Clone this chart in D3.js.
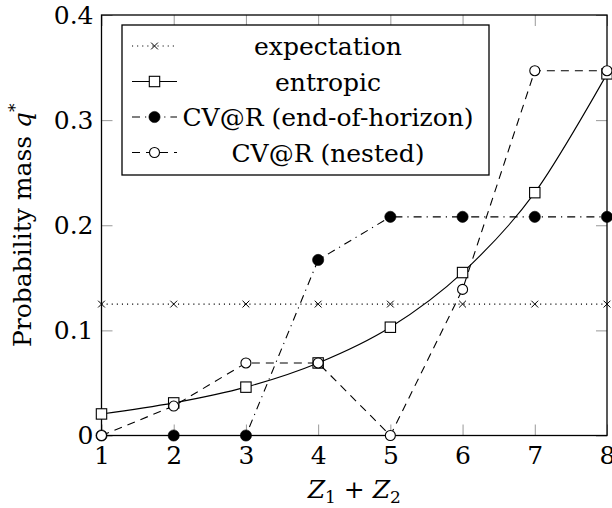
<!DOCTYPE html>
<html>
<head>
<meta charset="utf-8">
<script src="https://cdn.jsdelivr.net/npm/d3@7"></script>
<style>
  body { margin: 0; background: #fff; }
  svg text { font-family: "DejaVu Serif", "Liberation Serif", serif; fill: #000; }
</style>
</head>
<body>
<div id="chart"></div>
<script>
// values
const sums = [1, 2, 3, 4, 5, 6, 7, 8];
const expectation = [0.125, 0.125, 0.125, 0.125, 0.125, 0.125, 0.125, 0.125];
const entropic = [0.0205, 0.031, 0.046, 0.069, 0.103, 0.155, 0.231, 0.344];
const cvarEnd = [0, 0, 0, 0.167, 0.208, 0.208, 0.208, 0.208];
const cvarNested = [0, 0.028, 0.069, 0.069, 0, 0.139, 0.347, 0.347];

const xTicks = [1, 2, 3, 4, 5, 6, 7, 8];
const yTicks = [0, 0.1, 0.2, 0.3, 0.4];
const yTickLabels = ["0", "0.1", "0.2", "0.3", "0.4"];

const seriesNames = ["expectation", "entropic", "CV@R (end-of-horizon)", "CV@R (nested)"];

const serif = "'DejaVu Serif', 'Liberation Serif', serif";

const config = {
  width: 612,
  height: 508,
  left: 101.5, right: 607, top: 15, bottom: 435.5,
  fontSize: 25,
  tickLen: 11,
};

const svg = d3.select("#chart").append("svg")
  .attr("width", config.width)
  .attr("height", config.height)
  .attr("font-family", serif);

const x = d3.scaleLinear().domain([1, 8]).range([config.left, config.right]);
const y = d3.scaleLinear().domain([0, 0.4]).range([config.bottom, config.top]);

// ticks on all four sides, pointing inward
function styleAxis(g) {
  g.attr("font-family", serif);
  g.select(".domain").remove();
  g.selectAll(".tick line").attr("stroke", "#999").attr("stroke-width", 1);
  g.selectAll(".tick text")
    .style("font-family", serif)
    .style("font-size", config.fontSize + "px")
    .attr("fill", "#000");
}

svg.append("g")
  .attr("transform", `translate(0,${config.bottom})`)
  .call(d3.axisBottom(x).tickValues(xTicks).tickSize(-config.tickLen).tickPadding(11).tickFormat(d3.format("d")))
  .call(styleAxis);

svg.append("g")
  .attr("transform", `translate(0,${config.top})`)
  .call(d3.axisTop(x).tickValues(xTicks).tickSize(-config.tickLen).tickFormat(""))
  .call(styleAxis);

svg.append("g")
  .attr("transform", `translate(${config.left},0)`)
  .call(d3.axisLeft(y).tickValues(yTicks).tickSize(-config.tickLen).tickPadding(8)
    .tickFormat((d, i) => yTickLabels[i]))
  .call(styleAxis);

svg.append("g")
  .attr("transform", `translate(${config.right},0)`)
  .call(d3.axisRight(y).tickValues(yTicks).tickSize(-config.tickLen).tickFormat(""))
  .call(styleAxis);

// frame
svg.append("rect")
  .attr("x", config.left).attr("y", config.top)
  .attr("width", config.right - config.left)
  .attr("height", config.bottom - config.top)
  .attr("fill", "none")
  .attr("stroke", "#000")
  .attr("stroke-width", 1.3);

// marker drawing
function drawMarker(g, type, cx, cy) {
  if (type === "cross") {
    const s = 3.4;
    g.append("path")
      .attr("d", `M${cx - s},${cy - s}L${cx + s},${cy + s}M${cx - s},${cy + s}L${cx + s},${cy - s}`)
      .attr("stroke", "#000").attr("stroke-width", 1).attr("fill", "none");
  } else if (type === "square") {
    const s = 5.2;
    g.append("rect")
      .attr("x", cx - s).attr("y", cy - s).attr("width", 2 * s).attr("height", 2 * s)
      .attr("fill", "#fff").attr("stroke", "#000").attr("stroke-width", 1.1);
  } else if (type === "dot") {
    g.append("circle").attr("cx", cx).attr("cy", cy).attr("r", 5.6)
      .attr("fill", "#000").attr("stroke", "#000").attr("stroke-width", 0.6);
  } else if (type === "circle") {
    g.append("circle").attr("cx", cx).attr("cy", cy).attr("r", 5)
      .attr("fill", "#fff").attr("stroke", "#000").attr("stroke-width", 1.1);
  }
}

const series = [
  { name: seriesNames[0], values: expectation, dash: "1.1,4", marker: "cross", curve: d3.curveLinear },
  { name: seriesNames[1], values: entropic, dash: null, marker: "square", curve: d3.curveCardinal.tension(0) },
  { name: seriesNames[2], values: cvarEnd, dash: "8,5,1.2,5", marker: "dot", curve: d3.curveLinear },
  { name: seriesNames[3], values: cvarNested, dash: "8,6", marker: "circle", curve: d3.curveLinear },
];

const plotG = svg.append("g");

series.forEach((s) => {
  const pts = sums.map((d, i) => [d, s.values[i]]);
  const line = d3.line().x((d) => x(d[0])).y((d) => y(d[1])).curve(s.curve);
  plotG.append("path")
    .datum(pts)
    .attr("d", line)
    .attr("fill", "none")
    .attr("stroke", "#000")
    .attr("stroke-width", 1.1)
    .attr("stroke-dasharray", s.dash);
  const mg = plotG.append("g");
  pts.forEach((p) => drawMarker(mg, s.marker, x(p[0]), y(p[1])));
});

// legend
const legend = svg.append("g");
const lg = { x0: 122, y0: 25, x1: 489, y1: 175, row0: 46, rowStep: 35.5, lineX0: 132, lineX1: 177, textX: 328 };

legend.append("rect")
  .attr("x", lg.x0).attr("y", lg.y0)
  .attr("width", lg.x1 - lg.x0).attr("height", lg.y1 - lg.y0)
  .attr("fill", "#fff").attr("stroke", "#000").attr("stroke-width", 1.3);

series.forEach((s, i) => {
  const cy = lg.row0 + i * lg.rowStep;
  legend.append("line")
    .attr("x1", lg.lineX0).attr("x2", lg.lineX1)
    .attr("y1", cy).attr("y2", cy)
    .attr("stroke", "#000").attr("stroke-width", 1.1)
    .attr("stroke-dasharray", s.dash);
  drawMarker(legend, s.marker, (lg.lineX0 + lg.lineX1) / 2, cy);
  legend.append("text")
    .attr("x", lg.textX).attr("y", cy + 9)
    .attr("text-anchor", "middle")
    .style("font-family", serif)
    .style("font-size", config.fontSize + "px")
    .text(s.name);
});

// axis titles
const xTitle = svg.append("text")
  .attr("x", (config.left + config.right) / 2)
  .attr("y", 498)
  .attr("text-anchor", "middle")
  .style("font-family", serif)
  .style("font-size", config.fontSize + "px");
xTitle.append("tspan").style("font-style", "italic").text("Z");
xTitle.append("tspan").attr("dy", 5).style("font-size", "17px").text("1");
xTitle.append("tspan").attr("dy", -5).text(" + ");
xTitle.append("tspan").style("font-style", "italic").text("Z");
xTitle.append("tspan").attr("dy", 5).style("font-size", "17px").text("2");

const yTitle = svg.append("text")
  .attr("transform", `translate(30.5,${(config.top + config.bottom) / 2}) rotate(-90)`)
  .attr("text-anchor", "middle")
  .style("font-family", serif)
  .style("font-size", config.fontSize + "px");
yTitle.append("tspan").text("Probability mass ");
yTitle.append("tspan").style("font-style", "italic").text("q");
yTitle.append("tspan").attr("dy", -10).style("font-size", "17px").text("*");
</script>
</body>
</html>
